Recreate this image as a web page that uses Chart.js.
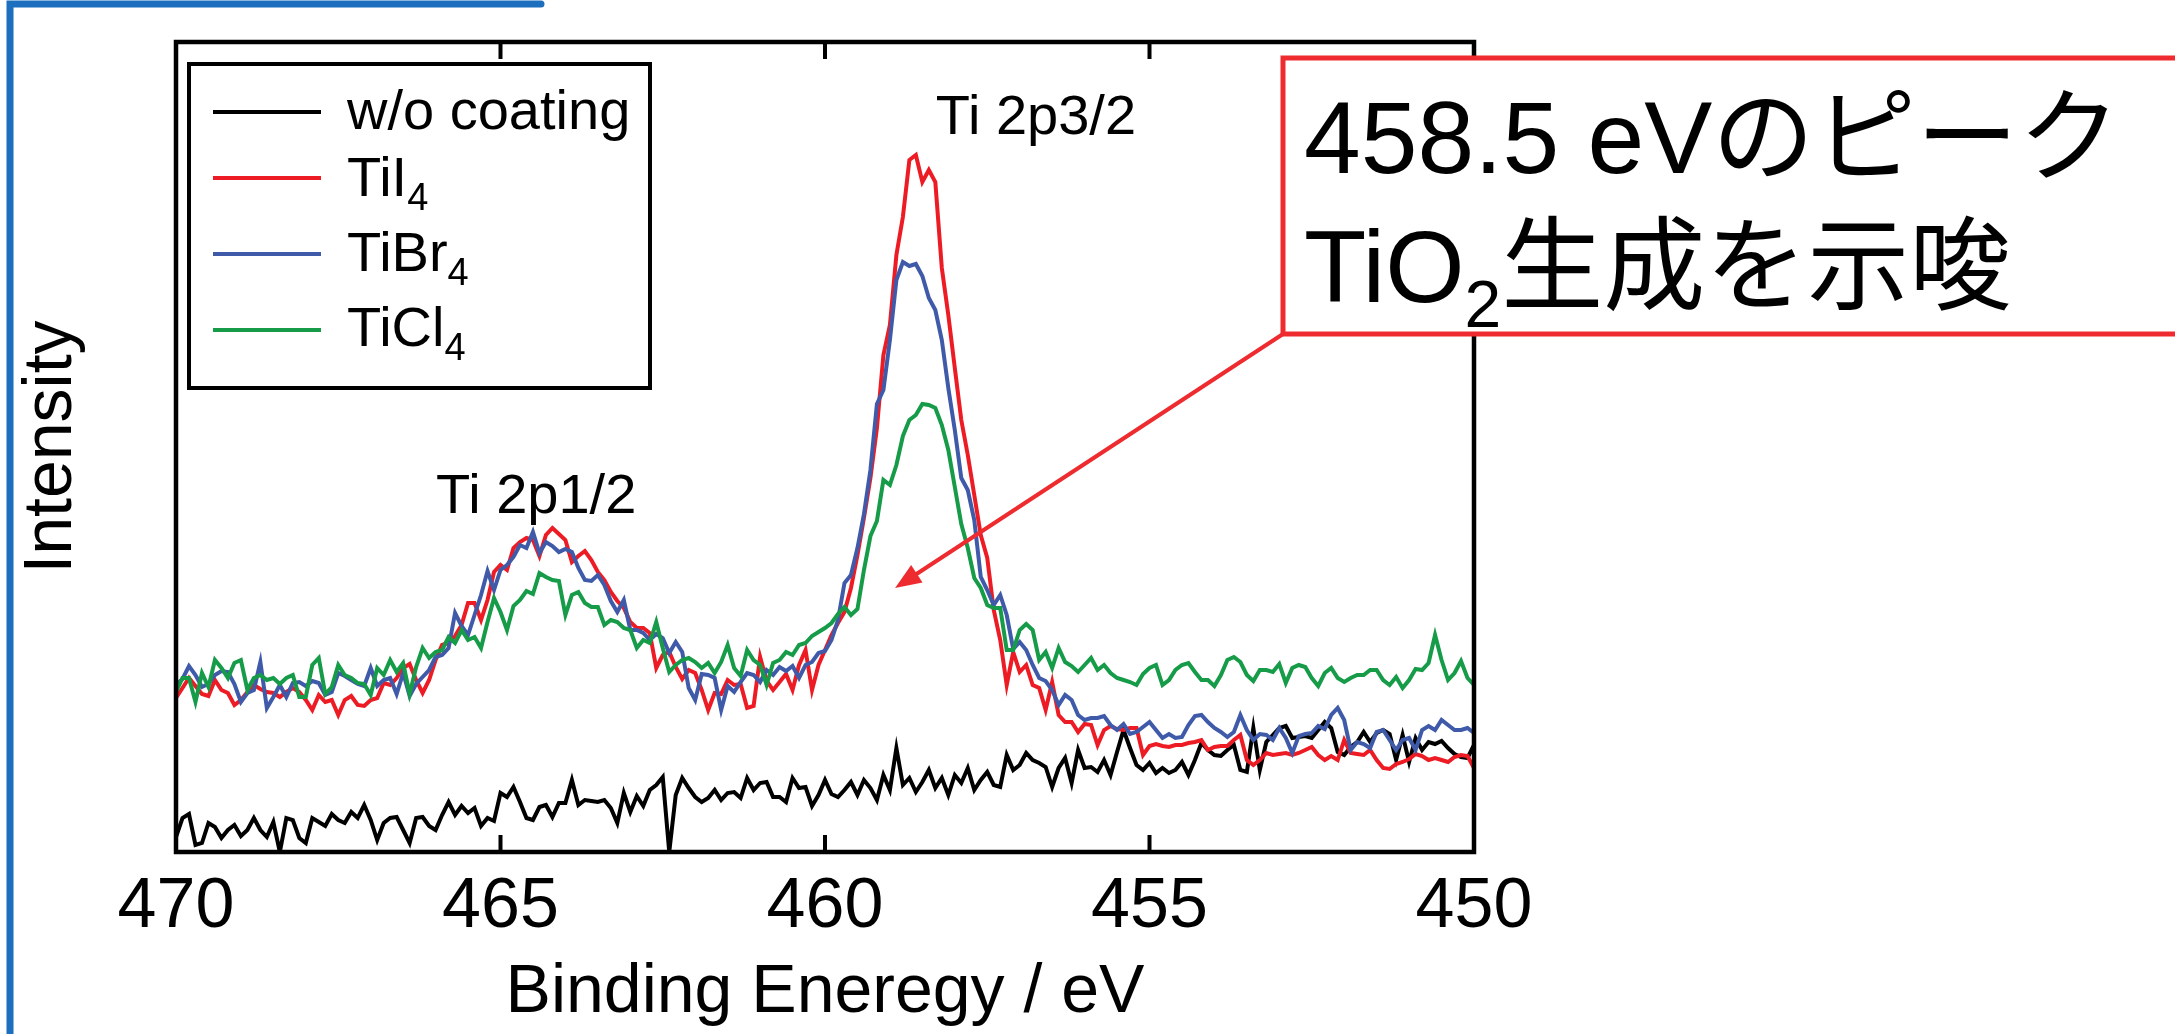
<!DOCTYPE html>
<html>
<head>
<meta charset="utf-8">
<script src="https://cdn.jsdelivr.net/npm/chart.js@4.4.1/dist/chart.umd.min.js"></script>
<style>
  html, body { margin: 0; padding: 0; background: #fff; }
  canvas { display: block; }
</style>
</head>
<body>
<canvas id="xps" width="2175" height="1034"></canvas>
<script>
// Ti 2p XPS spectra (0.1 eV steps, intensity in arbitrary units)
const energies = [
  470.0, 469.9, 469.8, 469.7, 469.6, 469.5, 469.4, 469.3, 469.2, 469.1,
  469.0, 468.9, 468.8, 468.7, 468.6, 468.5, 468.4, 468.3, 468.2, 468.1,
  468.0, 467.9, 467.8, 467.7, 467.6, 467.5, 467.4, 467.3, 467.2, 467.1,
  467.0, 466.9, 466.8, 466.7, 466.6, 466.5, 466.4, 466.3, 466.2, 466.1,
  466.0, 465.9, 465.8, 465.7, 465.6, 465.5, 465.4, 465.3, 465.2, 465.1,
  465.0, 464.9, 464.8, 464.7, 464.6, 464.5, 464.4, 464.3, 464.2, 464.1,
  464.0, 463.9, 463.8, 463.7, 463.6, 463.5, 463.4, 463.3, 463.2, 463.1,
  463.0, 462.9, 462.8, 462.7, 462.6, 462.5, 462.4, 462.3, 462.2, 462.1,
  462.0, 461.9, 461.8, 461.7, 461.6, 461.5, 461.4, 461.3, 461.2, 461.1,
  461.0, 460.9, 460.8, 460.7, 460.6, 460.5, 460.4, 460.3, 460.2, 460.1,
  460.0, 459.9, 459.8, 459.7, 459.6, 459.5, 459.4, 459.3, 459.2, 459.1,
  459.0, 458.9, 458.8, 458.7, 458.6, 458.5, 458.4, 458.3, 458.2, 458.1,
  458.0, 457.9, 457.8, 457.7, 457.6, 457.5, 457.4, 457.3, 457.2, 457.1,
  457.0, 456.9, 456.8, 456.7, 456.6, 456.5, 456.4, 456.3, 456.2, 456.1,
  456.0, 455.9, 455.8, 455.7, 455.6, 455.5, 455.4, 455.3, 455.2, 455.1,
  455.0, 454.9, 454.8, 454.7, 454.6, 454.5, 454.4, 454.3, 454.2, 454.1,
  454.0, 453.9, 453.8, 453.7, 453.6, 453.5, 453.4, 453.3, 453.2, 453.1,
  453.0, 452.9, 452.8, 452.7, 452.6, 452.5, 452.4, 452.3, 452.2, 452.1,
  452.0, 451.9, 451.8, 451.7, 451.6, 451.5, 451.4, 451.3, 451.2, 451.1,
  451.0, 450.9, 450.8, 450.7, 450.6, 450.5, 450.4, 450.3, 450.2, 450.1,
  450.0
];

const woCoating = [
  15, 34, 38, 7, 9, 29, 25, 14, 22, 27,
  16, 22, 34, 22, 15, 30, 0, 34, 32, 14,
  9, 34, 30, 26, 38, 32, 29, 40, 34, 47,
  32, 12, 29, 34, 35, 22, 9, 34, 35, 26,
  22, 37, 50, 37, 46, 39, 44, 26, 34, 31,
  59, 55, 65, 50, 34, 32, 45, 47, 35, 49,
  49, 72, 47, 52, 51, 50, 52, 44, 29, 59,
  40, 56, 46, 62, 67, 75, 0, 57, 74, 64,
  55, 50, 54, 62, 52, 59, 60, 54, 74, 62,
  69, 70, 55, 55, 50, 74, 64, 65, 46, 57,
  72, 58, 55, 62, 70, 57, 72, 64, 52, 77,
  62, 104, 67, 74, 60, 70, 82, 64, 74, 57,
  77, 69, 84, 62, 72, 80, 67, 65, 97, 82,
  87, 99, 92, 89, 85, 65, 84, 94, 69, 102,
  84, 85, 80, 92, 77, 100, 122, 104, 87, 82,
  89, 79, 84, 79, 82, 90, 77, 92, 109, 102,
  97, 96, 102, 107, 82, 80, 124, 82, 110, 117,
  124, 126, 114, 115, 116, 114, 122, 130, 124, 100,
  97, 105, 110, 120, 110, 119, 122, 118, 92, 117,
  90, 114, 102, 110, 108, 111, 104, 98, 95, 94,
  107
];

const tiI4 = [
  154, 164, 174, 166, 158, 156, 172, 162, 159, 147,
  152, 160, 167, 163, 160, 159, 155, 160, 164, 160,
  152, 142, 157, 150, 152, 137, 152, 156, 147, 146,
  152, 154, 169, 167, 174, 184, 188, 172, 159, 172,
  192, 207, 209, 216, 227, 249, 249, 232, 252, 280,
  287, 282, 304, 310, 314, 312, 296, 317, 324, 318,
  312, 290, 296, 301, 292, 280, 272, 260, 251, 244,
  230, 224, 224, 219, 184, 197, 200, 185, 173, 182,
  179, 162, 142, 159, 158, 172, 167, 168, 144, 146,
  195, 171, 162, 170, 178, 162, 187, 202, 162, 187,
  202, 217, 229, 240, 264, 297, 334, 374, 424, 497,
  527, 597, 635, 692, 697, 670, 682, 670, 584, 537,
  484, 432, 397, 357, 317, 294, 242, 212, 167, 200,
  180, 187, 167, 164, 142, 170, 137, 130, 130, 120,
  128, 127, 107, 122, 126, 123, 122, 124, 124, 97,
  106, 108, 106, 105, 107, 107, 109, 110, 112, 102,
  105, 106, 106, 112, 117, 92, 87, 92, 99, 97,
  98, 99, 97, 99, 102, 105, 97, 92, 96, 92,
  112, 99, 98, 97, 102, 92, 84, 83, 88, 90,
  93, 98, 96, 92, 94, 92, 90, 95, 97, 96,
  84
];

const tiBr4 = [
  167, 173, 186, 177, 165, 168, 177, 181, 180, 168,
  150, 159, 162, 190, 144, 155, 167, 155, 169, 170,
  166, 171, 169, 157, 160, 179, 176, 172, 168, 166,
  184, 166, 172, 174, 158, 179, 156, 168, 175, 182,
  195, 197, 204, 239, 226, 217, 237, 257, 281, 262,
  282, 287, 295, 307, 304, 320, 299, 310, 306, 300,
  303, 300, 284, 272, 271, 277, 267, 251, 240, 252,
  222, 222, 219, 212, 218, 214, 199, 210, 200, 164,
  152, 178, 177, 174, 142, 166, 160, 170, 179, 177,
  170, 182, 177, 185, 181, 186, 174, 187, 190, 199,
  201, 212, 232, 269, 277, 304, 338, 382, 448, 462,
  512, 572, 590, 586, 588, 576, 554, 542, 512, 464,
  422, 374, 362, 332, 275, 262, 247, 257, 237, 203,
  210, 202, 187, 174, 171, 162, 147, 157, 152, 137,
  132, 134, 134, 136, 127, 122, 128, 118, 120, 125,
  130, 122, 114, 118, 114, 115, 127, 136, 137, 130,
  124, 120, 115, 120, 137, 122, 112, 118, 117, 112,
  124, 114, 99, 116, 118, 119, 126, 123, 137, 144,
  132, 102, 110, 108, 104, 120, 122, 112, 102, 112,
  114, 102, 122, 126, 122, 132, 127, 122, 122, 124,
  119
];

const tiCl4 = [
  160, 174, 174, 150, 179, 165, 192, 184, 174, 189,
  192, 162, 174, 177, 172, 174, 168, 174, 177, 155,
  155, 187, 194, 158, 165, 187, 177, 174, 169, 168,
  157, 184, 177, 192, 180, 189, 158, 185, 204, 194,
  200, 202, 215, 209, 222, 212, 215, 204, 230, 254,
  240, 222, 246, 252, 261, 258, 279, 275, 272, 271,
  237, 257, 260, 249, 245, 245, 227, 232, 230, 224,
  222, 204, 212, 209, 230, 204, 180, 187, 192, 194,
  190, 184, 189, 179, 190, 207, 184, 176, 202, 192,
  187, 167, 189, 192, 200, 197, 207, 209, 216, 220,
  224, 229, 238, 245, 237, 243, 282, 316, 331, 372,
  367, 387, 416, 432, 437, 448, 447, 444, 427, 402,
  365, 328, 304, 274, 264, 247, 244, 244, 202, 202,
  222, 228, 222, 192, 200, 184, 204, 190, 186, 180,
  187, 194, 182, 187, 179, 174, 172, 170, 167, 178,
  184, 187, 167, 172, 182, 187, 189, 180, 172, 172,
  166, 177, 192, 195, 190, 177, 171, 182, 182, 180,
  188, 169, 184, 187, 185, 174, 166, 179, 184, 174,
  170, 174, 177, 177, 182, 182, 172, 167, 175, 164,
  172, 183, 182, 189, 217, 192, 172, 179, 191, 174,
  167
];

const seriesNames = ['w/o coating', 'TiI4', 'TiBr4', 'TiCl4'];
const seriesColors = ['#000000', '#ed1c24', '#3f5aa9', '#169b48'];
const xTicks = [470, 465, 460, 455, 450];

const FONT = '"Liberation Sans", Arial, Helvetica, sans-serif';
const JP_FONT = '"Liberation Sans", Arial, "Noto Sans CJK JP", sans-serif';

Chart.defaults.font.family = FONT;
Chart.defaults.color = '#000';

// draws text pieces side by side: [text, size, dy]
function drawRuns(ctx, runs, x, y, family) {
  for (const [text, size, dy] of runs) {
    ctx.font = size + 'px ' + family;
    ctx.fillText(text, x, y + dy);
    x += ctx.measureText(text).width;
  }
}

// "TiBr4" -> main text + subscript digit
function formulaRuns(name, size, subSize, subDy) {
  const m = name.match(/^(.*?)(\d+)$/);
  if (!m || name.indexOf(' ') >= 0) return [[name, size, 0]];
  return [[m[1], size, 0], [m[2], subSize, subDy]];
}

const decorations = {
  id: 'decorations',
  afterDatasetsDraw(chart) {
    const { ctx, chartArea: a, scales: { x, y } } = chart;
    ctx.save();

    // plot frame
    ctx.strokeStyle = '#000';
    ctx.lineWidth = 4.5;
    ctx.strokeRect(a.left, a.top, a.right - a.left, a.bottom - a.top);

    // inward ticks top and bottom
    ctx.lineWidth = 4;
    x.ticks.forEach(t => {
      const px = x.getPixelForValue(t.value);
      ctx.beginPath();
      ctx.moveTo(px, a.bottom);
      ctx.lineTo(px, a.bottom - 17);
      ctx.moveTo(px, a.top);
      ctx.lineTo(px, a.top + 17);
      ctx.stroke();
    });

    // legend
    ctx.fillStyle = '#fff';
    ctx.fillRect(189, 64, 461, 324);
    ctx.lineWidth = 4;
    ctx.strokeStyle = '#000';
    ctx.strokeRect(189, 64, 461, 324);
    const lineY = [112, 178, 254, 330];
    const textY = [129, 196, 271, 346];
    ctx.textAlign = 'left';
    ctx.textBaseline = 'alphabetic';
    chart.data.datasets.forEach((ds, i) => {
      ctx.strokeStyle = ds.borderColor;
      ctx.beginPath();
      ctx.moveTo(213, lineY[i]);
      ctx.lineTo(321, lineY[i]);
      ctx.stroke();
      ctx.fillStyle = '#000';
      drawRuns(ctx, formulaRuns(ds.label, 56, 38, 14), 347, textY[i], FONT);
    });

    // peak labels
    ctx.fillStyle = '#000';
    ctx.font = '56px ' + FONT;
    ctx.textAlign = 'center';
    ctx.fillText('Ti 2p3/2', x.getPixelForValue(456.75), y.getPixelForValue(718));
    ctx.fillText('Ti 2p1/2', x.getPixelForValue(464.45), y.getPixelForValue(339));

    // arrow from the note box to the peak
    const tipX = x.getPixelForValue(458.92);
    const tipY = y.getPixelForValue(264);
    const fromX = 1283, fromY = 334;
    const ang = Math.atan2(tipY - fromY, tipX - fromX);
    const head = 28;
    ctx.strokeStyle = '#ee2b2f';
    ctx.fillStyle = '#ee2b2f';
    ctx.lineWidth = 4;
    ctx.beginPath();
    ctx.moveTo(fromX, fromY);
    ctx.lineTo(tipX - Math.cos(ang) * head * 0.8, tipY - Math.sin(ang) * head * 0.8);
    ctx.stroke();
    ctx.beginPath();
    ctx.moveTo(tipX, tipY);
    ctx.lineTo(tipX - Math.cos(ang - 0.38) * head, tipY - Math.sin(ang - 0.38) * head);
    ctx.lineTo(tipX - Math.cos(ang + 0.38) * head, tipY - Math.sin(ang + 0.38) * head);
    ctx.closePath();
    ctx.fill();

    // note box
    ctx.fillStyle = '#fff';
    ctx.fillRect(1283, 58, 1000, 276);
    ctx.lineWidth = 5;
    ctx.strokeRect(1283, 58, 1000, 276);
    ctx.fillStyle = '#000';
    ctx.textAlign = 'left';
    drawRuns(ctx, [['458.5 eVのピーク', 102, 0]], 1304, 173, JP_FONT);
    drawRuns(ctx, [['TiO', 102, 0], ['2', 66, 25], ['生成を示唆', 102, 0]], 1304, 302, JP_FONT);

    // blue slide frame
    ctx.strokeStyle = '#1b6fbe';
    ctx.lineWidth = 7;
    ctx.lineCap = 'round';
    ctx.beginPath();
    ctx.moveTo(10, 1040);
    ctx.lineTo(10, 4);
    ctx.lineTo(541, 4);
    ctx.stroke();

    ctx.restore();
  }
};

const order = [3, 2, 1, 0];
const seriesData = [woCoating, tiI4, tiBr4, tiCl4];

new Chart(document.getElementById('xps'), {
  type: 'line',
  data: {
    datasets: seriesData.map((vals, i) => ({
      label: seriesNames[i],
      data: energies.map((e, k) => ({ x: e, y: vals[k] })),
      borderColor: seriesColors[i],
      borderWidth: 4,
      pointRadius: 0,
      tension: 0,
      fill: false,
      order: order[i],
    })),
  },
  options: {
    responsive: false,
    animation: false,
    devicePixelRatio: 1,
    layout: { padding: { left: 0, top: 42, right: 701, bottom: 0 } },
    scales: {
      x: {
        type: 'linear',
        reverse: true,
        min: 450,
        max: 470,
        afterBuildTicks: (s) => { s.ticks = xTicks.map(v => ({ value: v })); },
        ticks: { font: { size: 70 }, color: '#000', padding: 14, maxRotation: 0 },
        grid: { display: false, drawTicks: false },
        border: { display: false },
        title: { display: true, text: 'Binding Eneregy / eV', font: { size: 68 }, color: '#000', padding: { top: 0, bottom: 0 } },
        afterFit: (s) => { s.height = 182; },
      },
      y: {
        type: 'linear',
        min: 0,
        max: 810,
        ticks: { display: false },
        grid: { display: false, drawTicks: false },
        border: { display: false },
        title: { display: true, text: 'Intensity', font: { size: 68 }, color: '#000', padding: { top: 11, bottom: 0 } },
        afterFit: (s) => { s.width = 176; },
      },
    },
    plugins: {
      legend: { display: false },
      tooltip: { enabled: false },
    },
  },
  plugins: [decorations],
});
</script>
</body>
</html>
